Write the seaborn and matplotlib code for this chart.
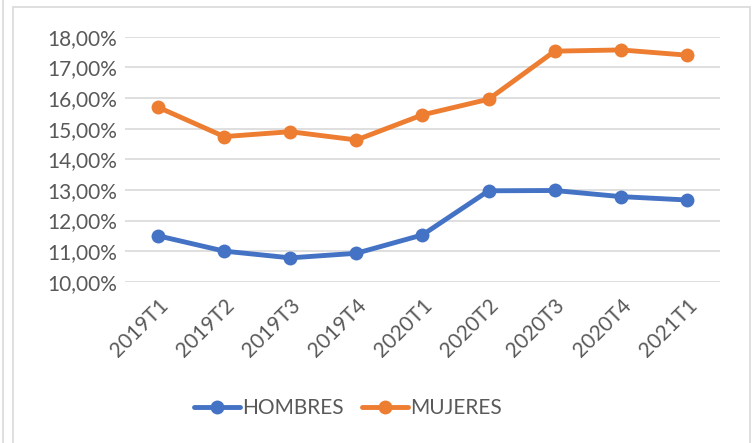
import numpy as np
import pandas as pd
import matplotlib.pyplot as plt
import seaborn as sns
from matplotlib.lines import Line2D
from matplotlib.patches import Rectangle
from matplotlib.ticker import FuncFormatter

periods = ["2019T1", "2019T2", "2019T3", "2019T4", "2020T1",
           "2020T2", "2020T3", "2020T4", "2021T1"]
hombres = [11.50, 11.00, 10.78, 10.93, 11.53, 12.97, 12.98, 12.78, 12.67]
mujeres = [15.70, 14.74, 14.90, 14.63, 15.45, 15.96, 17.53, 17.57, 17.40]
series = ["HOMBRES", "MUJERES"]
colors = {"HOMBRES": "#4472C4", "MUJERES": "#ED7D31"}


def main():
    sns.set_theme(style="white")
    plt.rcParams["font.family"] = ["Lato", "DejaVu Sans"]

    df = pd.DataFrame({
        "periodo": periods * 2,
        "valor": hombres + mujeres,
        "serie": [series[0]] * len(periods) + [series[1]] * len(periods),
    })
    df["x"] = list(range(len(periods))) * 2

    fig = plt.figure(figsize=(7.55, 4.43), dpi=100)
    ax = fig.add_axes([0.1656, 0.364, 0.788, 0.553])

    sns.lineplot(data=df, x="x", y="valor", hue="serie", palette=colors,
                 marker="o", markersize=10, markeredgewidth=0,
                 linewidth=3.5, ax=ax, legend=False, zorder=3)

    ax.set_xlim(-0.5, len(periods) - 0.5)
    ax.set_ylim(10, 18)
    ax.set_yticks(np.arange(10, 18.01, 1))
    ax.yaxis.set_major_formatter(
        FuncFormatter(lambda v, p: f"{v:.2f}".replace(".", ",") + "%"))
    ax.set_xticks(range(len(periods)))
    ax.set_xticklabels(periods, rotation=45, ha="right",
                       rotation_mode="anchor")
    ax.tick_params(axis="both", length=0, labelsize=15, colors="#595959",
                   pad=6)
    ax.tick_params(axis="x", pad=10)
    ax.set_xlabel("")
    ax.set_ylabel("")
    ax.grid(axis="y", color="#D9D9D9", linewidth=1.2)
    ax.set_axisbelow(True)
    for s in ax.spines.values():
        s.set_visible(False)

    # chart border
    fig.patches.append(Rectangle((13 / 755, -0.02), 737 / 755, 1 - 7 / 443 + 0.02,
                                 transform=fig.transFigure, fill=False,
                                 edgecolor="#D9D9D9", linewidth=1.2))
    fig.add_artist(Line2D([3 / 755, 3 / 755], [0, 1],
                          transform=fig.transFigure, color="#D9D9D9",
                          linewidth=1.2))

    handles = [Line2D([0], [0], color=colors[s], linewidth=3.5, marker="o",
                      markersize=10, markeredgewidth=0) for s in series]
    fig.legend(handles, series, loc="center", bbox_to_anchor=(0.461, 0.079),
               ncol=2, frameon=False, fontsize=15, handlelength=2.2,
               columnspacing=0.9, handletextpad=0.1, labelcolor="#595959")

    fig.savefig("out.png", dpi=100)


if __name__ == "__main__":
    main()
